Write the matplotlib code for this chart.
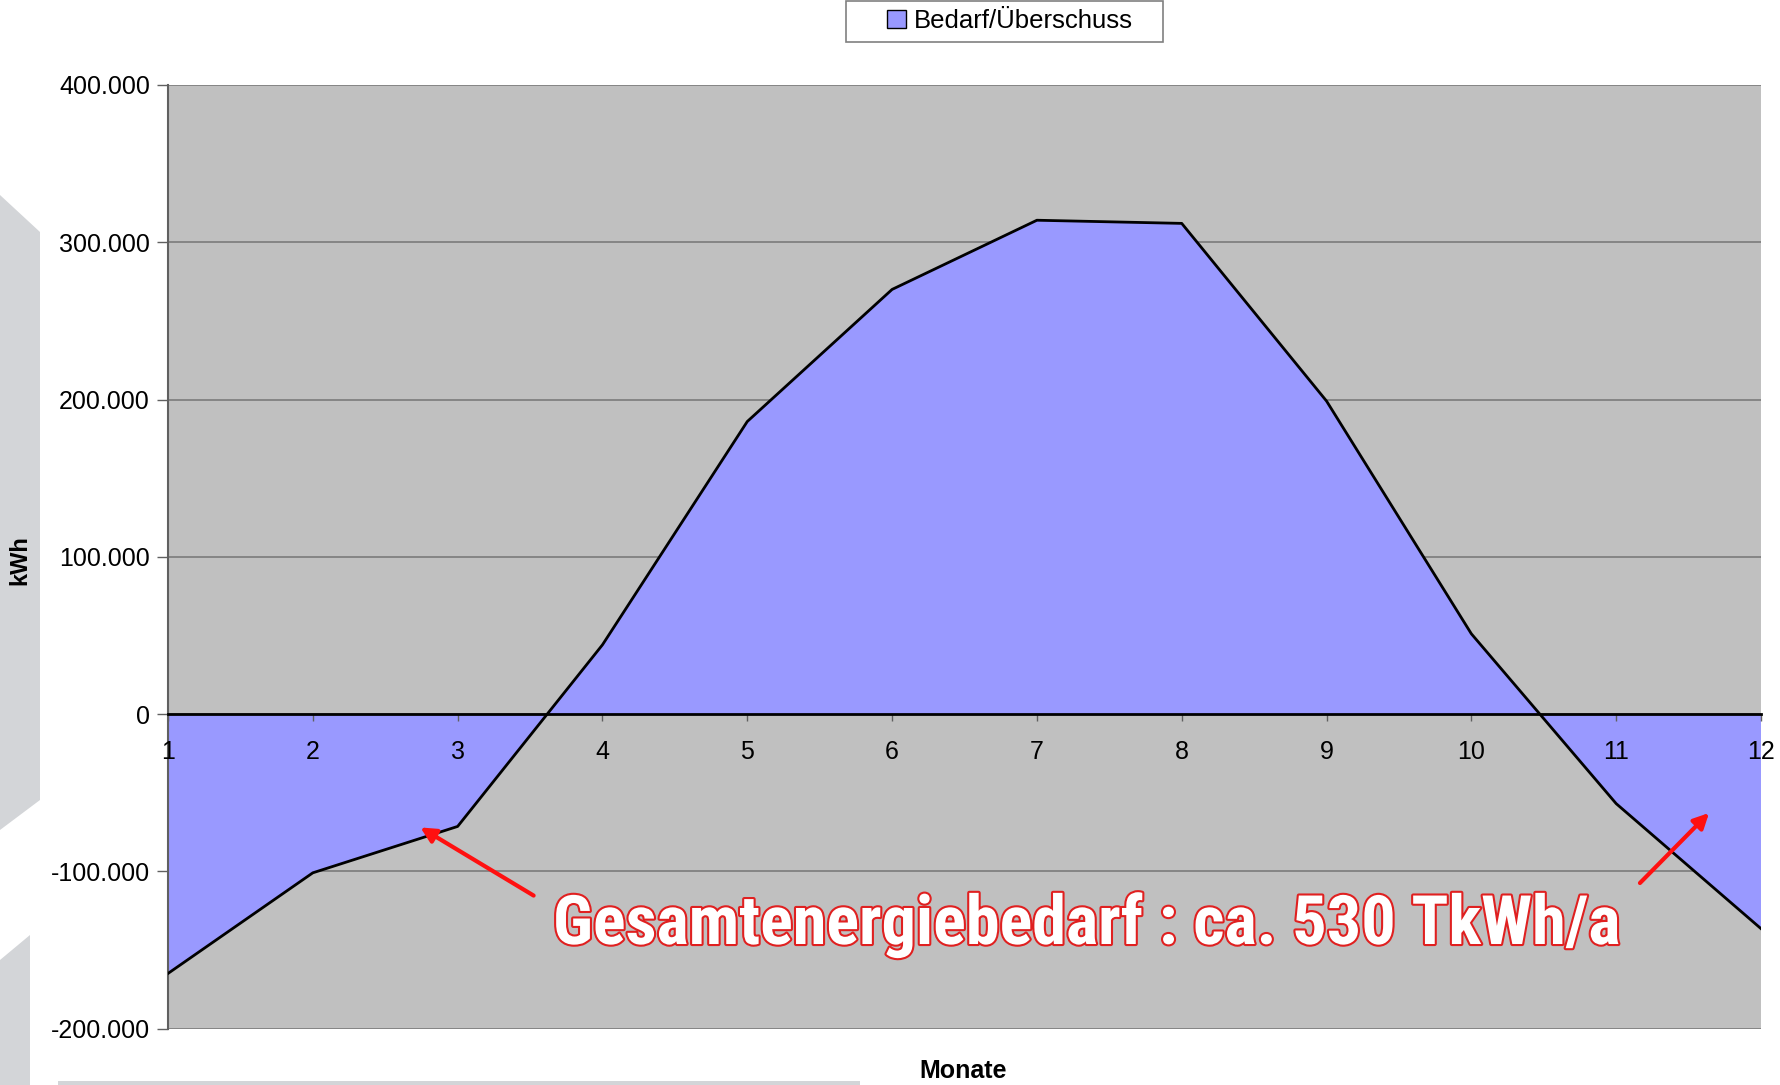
import matplotlib
matplotlib.use("Agg")
import matplotlib.pyplot as plt
import matplotlib.patheffects as pe
from matplotlib.ticker import FuncFormatter, MultipleLocator
from matplotlib.patches import Polygon, Rectangle

months = [1, 2, 3, 4, 5, 6, 7, 8, 9, 10, 11, 12]
values = [-165000, -101000, -71500, 44000, 186000, 270000, 314000, 312000, 199000, 51000, -57000, -136500]
series_name = "Bedarf/Überschuss"
y_label = "kWh"
x_label = "Monate"
note = "Gesamtenergiebedarf : ca. 530 TkWh/a"

plt.rcParams['font.family'] = ['Liberation Sans', 'DejaVu Sans']

fig = plt.figure(figsize=(17.8, 10.85), dpi=100)
fig.patch.set_facecolor('white')

# light gray background decorations on the left
W, H = 1780, 1085
def fp(pts):
    return [(x / W, 1 - y / H) for x, y in pts]
for pts in ([(0, 195), (40, 232), (40, 800), (0, 830)],
            [(0, 960), (30, 935), (30, 1085), (0, 1085)],
            [(58, 1081), (860, 1081), (860, 1085), (58, 1085)]):
    fig.patches.append(Polygon(fp(pts), closed=True, transform=fig.transFigure,
                               facecolor='#d3d5d8', edgecolor='none', zorder=0))

ax = fig.add_axes([168 / W, 1 - 1028.5 / H, (1761 - 168) / W, (1028.5 - 85) / H])
ax.set_facecolor('#C0C0C0')

ax.set_xlim(1, 12)
ax.set_ylim(-200000, 400000)
ax.yaxis.set_major_locator(MultipleLocator(100000))
ax.yaxis.set_major_formatter(FuncFormatter(lambda v, p: f"{int(v):,}".replace(",", ".")))
ax.set_xticks(months)

# gridlines behind the area
for yv in ax.get_yticks():
    ax.axhline(yv, color='#808080', lw=1.3, zorder=1)

ax.fill_between(months, values, 0, facecolor='#9999FF', edgecolor='none', zorder=2, label=series_name)
ax.plot(months, values, color='black', lw=2, zorder=3)
ax.set_axisbelow(False)

for s in ['top', 'right']:
    ax.spines[s].set_visible(False)
ax.spines['left'].set_color('#606060')
ax.spines['left'].set_linewidth(1.5)
ax.spines['bottom'].set_position(('data', 0))
ax.spines['bottom'].set_color('black')
ax.spines['bottom'].set_linewidth(2)
ax.spines['bottom'].set_zorder(4)

ax.tick_params(axis='y', labelsize=18, length=8, width=1, color='#606060', pad=5)
ax.tick_params(axis='x', labelsize=18, length=5, width=1, color='#606060', pad=14)
for lab in ax.get_xticklabels():
    lab.set_zorder(5)

fig.text(20 / W, 1 - 560 / H, y_label, rotation=90, ha='center', va='center',
         fontsize=17, fontweight='bold', fontstretch='condensed')
fig.text(963 / W, 1 - 1071 / H, x_label, ha='center', va='center',
         fontsize=18, fontweight='bold')

# legend box
fig.patches.append(Rectangle((846 / W, 1 - 42 / H), (1163 - 846) / W, 41 / H,
                             transform=fig.transFigure, facecolor='white',
                             edgecolor='#808080', lw=1.2, zorder=1))
leg = fig.legend(loc='center', bbox_to_anchor=(1010 / W, 1 - 21 / H), fontsize=18.5,
                 frameon=False, handlelength=0.75, handleheight=0.75,
                 handletextpad=0.3, borderpad=0, borderaxespad=0)
for h in leg.legend_handles:
    h.set_edgecolor('black')
    h.set_linewidth(1)

txt = fig.text(1087 / W, 1 - 925 / H, note, ha='center', va='center', fontsize=54,
               family=['Liberation Sans Narrow', 'Roboto Condensed', 'Roboto', 'DejaVu Sans'],
               fontstretch='condensed', fontweight='bold', color='white',
               path_effects=[pe.withStroke(linewidth=3, foreground='#E02020')], zorder=10)
# fit the note to the width it has in the reference
fig.canvas.draw()
bb = txt.get_window_extent()
txt.set_fontsize(54 * 1067 / bb.width)

arrow_kw = dict(arrowstyle='-|>,head_length=0.9,head_width=0.45', color='#FF1010', lw=3)
ax.annotate('', xy=(418, H - 826), xycoords='figure pixels',
            xytext=(536, H - 897), textcoords='figure pixels', arrowprops=arrow_kw)
ax.annotate('', xy=(1711, H - 811), xycoords='figure pixels',
            xytext=(1638, H - 885), textcoords='figure pixels', arrowprops=arrow_kw)

fig.savefig('out.png', dpi=100, facecolor='white')
